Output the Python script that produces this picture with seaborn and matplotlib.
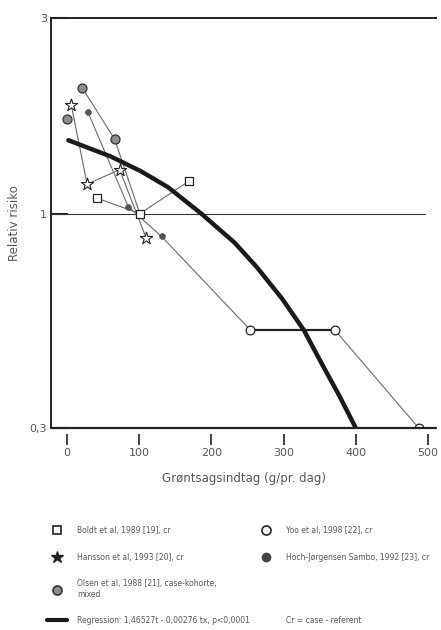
import matplotlib
matplotlib.use("Agg")
import matplotlib.pyplot as plt
import seaborn as sns
from matplotlib.lines import Line2D

# study data (intake g/day, relative risk)
boldt_x = [42, 101, 169]
boldt_y = [1.09, 1.00, 1.20]
hansson_x = [6, 28, 73, 110]
hansson_y = [1.84, 1.18, 1.28, 0.87]
olsen_x = [0, 21, 66]
olsen_y = [1.70, 2.03, 1.52]
hoch_x = [29, 85, 131]
hoch_y = [1.77, 1.04, 0.88]
yoo_x = [254, 371, 487]
yoo_y = [0.52, 0.52, 0.30]

# regression curve, points
reg_x = [2, 60, 102, 140, 186, 232, 263, 298, 328, 353, 377, 400]
reg_y = [1.51, 1.38, 1.27, 1.16, 1.00, 0.85, 0.74, 0.62, 0.52, 0.43, 0.36, 0.30]

x_ticks = [0, 100, 200, 300, 400, 500]
y_ticks = [0.3, 1, 3]
y_ticklabels = ["0,3", "1", "3"]

labels_left = [
    "Boldt et al, 1989 [19], cr",
    "Hansson et al, 1993 [20], cr",
    "Olsen et al, 1988 [21], case-kohorte,\nmixed",
    "Regression: 1,46527t - 0,00276 tx, p<0,0001",
]
labels_right = [
    "Yoo et al, 1998 [22], cr",
    "Hoch-Jørgensen Sambo, 1992 [23], cr",
    " \n ",
    "Cr = case - referent",
]

sns.set_style("white")
plt.rcParams["font.family"] = ["DejaVu Sans"]

fig = plt.figure(figsize=(4.41, 6.3), dpi=100)
ax = fig.add_axes([51 / 441, 1 - 428 / 630, 385 / 441, 410 / 630])
ax.set_yscale("log")

thin = dict(color="#6a6a6a", linewidth=0.8)

# connecting lines
sns.lineplot(x=boldt_x, y=boldt_y, sort=False, ax=ax, **thin)
sns.lineplot(x=hansson_x, y=hansson_y, sort=False, ax=ax, **thin)
sns.lineplot(x=olsen_x[1:] + [boldt_x[1]], y=olsen_y[1:] + [boldt_y[1]], sort=False, ax=ax, **thin)
sns.lineplot(x=hoch_x + [yoo_x[0]], y=hoch_y + [yoo_y[0]], sort=False, ax=ax, **thin)
sns.lineplot(x=yoo_x[1:], y=yoo_y[1:], sort=False, ax=ax, **thin)
sns.lineplot(x=yoo_x[:2], y=yoo_y[:2], sort=False, ax=ax, color="#222222", linewidth=1.6)

# regression
sns.lineplot(x=reg_x, y=reg_y, sort=False, ax=ax, color="#1a1a1a", linewidth=3.2)

# markers
sns.scatterplot(x=boldt_x, y=boldt_y, marker="s", s=32, facecolor="white",
                edgecolor="#222222", linewidth=0.9, ax=ax, zorder=5)
sns.scatterplot(x=hansson_x, y=hansson_y, marker="*", s=85, facecolor="white",
                edgecolor="#222222", linewidth=0.8, ax=ax, zorder=5)
sns.scatterplot(x=olsen_x, y=olsen_y, marker="o", s=42, facecolor="#8c8c8c",
                edgecolor="#333333", linewidth=0.9, ax=ax, zorder=5)
sns.scatterplot(x=hoch_x, y=hoch_y, marker="o", s=18, facecolor="#555555",
                edgecolor="#555555", linewidth=0.5, ax=ax, zorder=5)
sns.scatterplot(x=yoo_x, y=yoo_y, marker="o", s=40, facecolor="white",
                edgecolor="#222222", linewidth=0.9, ax=ax, zorder=5)

ax.axhline(1, xmax=0.971, color="#333333", linewidth=0.8, zorder=1)

ax.set_xlim(-22, 511)
ax.set_ylim(0.3, 3)
ax.set_xticks(x_ticks)
ax.set_xticklabels([str(v) for v in x_ticks])
ax.set_yticks(y_ticks)
ax.set_yticklabels(y_ticklabels)
ax.minorticks_off()

for side in ["left", "top"]:
    ax.spines[side].set_color("#222222")
    ax.spines[side].set_linewidth(1.4)
ax.spines["right"].set_visible(False)
ax.spines["bottom"].set_position(("outward", 4.5))
ax.spines["bottom"].set_visible(False)
ax.axhline(0.3, color="#222222", linewidth=1.6, clip_on=False, zorder=6)

ax.tick_params(axis="x", direction="out", length=8, width=1.3, color="#333333",
               pad=2, labelsize=8, labelcolor="#555555", bottom=True)
ax.tick_params(axis="y", direction="in", length=12, width=1.5, color="#222222",
               pad=3, labelsize=8, labelcolor="#555555", left=True)

ax.set_xlabel("Grøntsagsindtag (g/pr. dag)", fontsize=8.5, color="#555555", labelpad=10)
ax.set_ylabel("Relativ risiko", fontsize=8.5, color="#555555", labelpad=6)

# legend, two columns
h_left = [
    Line2D([], [], marker="s", ls="none", ms=6, mfc="white", mec="#222222", mew=1.2),
    Line2D([], [], marker="*", ls="none", ms=9, mfc="#222222", mec="#222222"),
    Line2D([], [], marker="o", ls="none", ms=6.5, mfc="#8c8c8c", mec="#333333", mew=1.2),
    Line2D([], [], color="#1a1a1a", lw=3),
]
h_right = [
    Line2D([], [], marker="o", ls="none", ms=6.5, mfc="white", mec="#222222", mew=1.2),
    Line2D([], [], marker="o", ls="none", ms=6, mfc="#444444", mec="#444444"),
    Line2D([], [], color="none"),
    Line2D([], [], color="none"),
]
leg_kw = dict(frameon=False, loc="upper left", fontsize=5.5, labelcolor="#555555",
              handlelength=2.6, handletextpad=1.3, labelspacing=2.3,
              borderaxespad=0, borderpad=0)
fig.legend(h_left, labels_left, bbox_to_anchor=(47 / 441, 1 - 526 / 630), **leg_kw)
fig.legend(h_right, labels_right, bbox_to_anchor=(256 / 441, 1 - 526 / 630), **leg_kw)

fig.savefig("out.png", dpi=100)
